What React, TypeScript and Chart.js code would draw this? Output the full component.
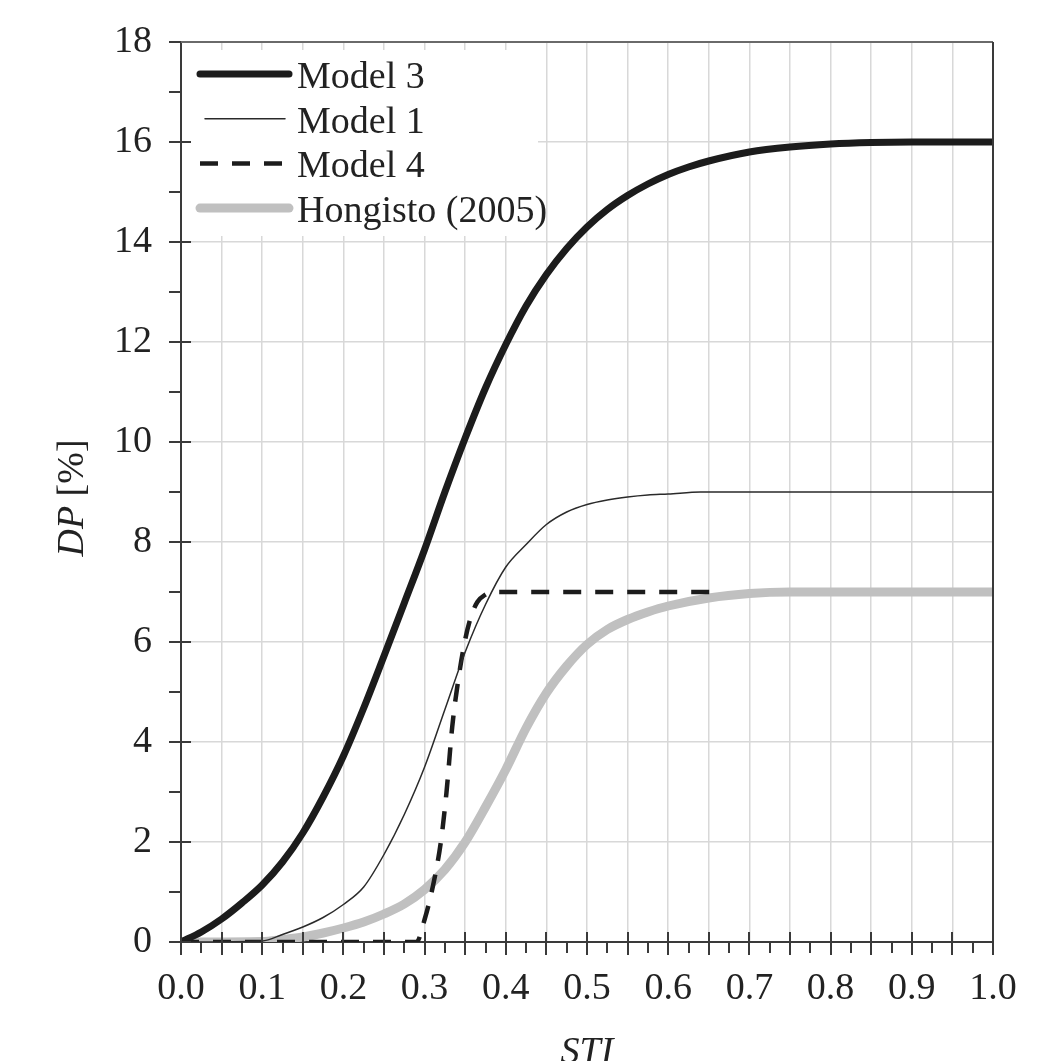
import React, { useEffect, useRef } from 'react';
import { Chart, registerables } from 'chart.js';

Chart.register(...registerables);

// ---- Data ----
const seriesNames = ['Model 3', 'Model 1', 'Model 4', 'Hongisto (2005)'];

const model3STI = [0, 0.025, 0.05, 0.075, 0.1, 0.125, 0.15, 0.175, 0.2, 0.225, 0.25, 0.275, 0.3, 0.325, 0.35, 0.375, 0.4, 0.425, 0.45, 0.475, 0.5, 0.525, 0.55, 0.575, 0.6, 0.625, 0.65, 0.7, 0.75, 0.8, 0.85, 0.9, 0.95, 1.0];
const model3DP = [0, 0.2, 0.46, 0.78, 1.14, 1.6, 2.18, 2.9, 3.72, 4.68, 5.72, 6.78, 7.85, 9.0, 10.08, 11.08, 11.95, 12.72, 13.35, 13.87, 14.3, 14.65, 14.93, 15.16, 15.35, 15.5, 15.62, 15.8, 15.9, 15.96, 15.99, 16.0, 16.0, 16.0];

const model1STI = [0, 0.1, 0.125, 0.15, 0.175, 0.2, 0.225, 0.25, 0.275, 0.3, 0.325, 0.35, 0.375, 0.4, 0.425, 0.45, 0.475, 0.5, 0.525, 0.55, 0.575, 0.6, 0.64, 0.7, 0.8, 0.9, 1.0];
const model1DP = [0, 0.02, 0.15, 0.3, 0.49, 0.75, 1.1, 1.75, 2.55, 3.5, 4.65, 5.8, 6.75, 7.5, 7.95, 8.35, 8.6, 8.75, 8.84, 8.9, 8.94, 8.96, 9.0, 9.0, 9.0, 9.0, 9.0];

const model4STI = [0, 0.29, 0.3, 0.31, 0.32, 0.327, 0.334, 0.342, 0.35, 0.357, 0.365, 0.375, 0.385, 0.66];
const model4DP = [0, 0, 0.45, 1.1, 2.0, 3.0, 4.3, 5.3, 6.05, 6.5, 6.8, 6.95, 7.0, 7.0];

const hongistoSTI = [0, 0.1, 0.125, 0.15, 0.175, 0.2, 0.225, 0.25, 0.275, 0.3, 0.325, 0.35, 0.375, 0.4, 0.425, 0.45, 0.475, 0.5, 0.525, 0.55, 0.575, 0.6, 0.65, 0.7, 0.75, 0.85, 1.0];
const hongistoDP = [0, 0.01, 0.05, 0.1, 0.18, 0.28, 0.4, 0.56, 0.76, 1.05, 1.45, 2.0, 2.7, 3.45, 4.28, 4.98, 5.52, 5.95, 6.25, 6.45, 6.6, 6.72, 6.88, 6.97, 7.0, 7.0, 7.0];

const xTickLabels = ['0.0', '0.1', '0.2', '0.3', '0.4', '0.5', '0.6', '0.7', '0.8', '0.9', '1.0'];
const yTickLabels = ['0', '2', '4', '6', '8', '10', '12', '14', '16', '18'];

const xTitle = 'STI';
const yTitleItalic = 'DP';
const yTitleRest = ' [%]';

// ---- Styling ----
const FONT = "'Liberation Serif', 'Times New Roman', serif";
const FS = 38;
const TEXT = '#222222';
const GRID = '#d8d8d8';
const AXIS = '#3a3a3a';

const zip = (xs: number[], ys: number[]) => xs.map((x, i) => ({ x, y: ys[i] }));

const decorPlugin = {
  id: 'decor',
  afterDraw(chart: any) {
    const { ctx, chartArea: ca, scales } = chart;
    const xs = scales.x;
    const ys = scales.y;
    ctx.save();

    // legend background box
    ctx.fillStyle = '#ffffff';
    ctx.fillRect(ca.left + 2, ca.top + 8, 538 - ca.left - 2, 236 - ca.top - 8);

    // legend entries
    ctx.font = `${FS}px ${FONT}`;
    ctx.textBaseline = 'alphabetic';
    ctx.textAlign = 'left';
    chart.data.datasets.forEach((ds: any, i: number) => {
      const base = ca.top + 46 + i * 44.7;
      const ly = base - 14;
      ctx.save();
      ctx.strokeStyle = ds.borderColor;
      ctx.lineWidth = ds.borderWidth;
      ctx.lineCap = ds.borderDash && ds.borderDash.length ? 'butt' : 'round';
      ctx.setLineDash(ds.borderDash || []);
      ctx.beginPath();
      const x0 = i === 1 ? ca.left + 24 : ca.left + 19;
      const x1 = i === 1 ? ca.left + 104 : ca.left + 108;
      ctx.moveTo(x0, ly);
      ctx.lineTo(x1, ly);
      ctx.stroke();
      ctx.restore();
      ctx.fillStyle = TEXT;
      ctx.fillText(ds.label, ca.left + 116, base);
    });

    // tick marks
    ctx.strokeStyle = AXIS;
    ctx.lineWidth = 2;
    ctx.beginPath();
    for (let k = 0; k <= 20; k++) {
      const px = Math.round(xs.getPixelForValue(k * 0.05));
      ctx.moveTo(px, ca.bottom - 10);
      ctx.lineTo(px, ca.bottom + 13);
    }
    for (let k = 0; k < 20; k++) {
      const px = Math.round(xs.getPixelForValue(0.025 + k * 0.05));
      ctx.moveTo(px, ca.bottom);
      ctx.lineTo(px, ca.bottom + 11);
    }
    for (let v = 0; v <= 18; v++) {
      const py = Math.round(ys.getPixelForValue(v));
      if (v % 2 === 0) {
        ctx.moveTo(ca.left - 12, py);
        ctx.lineTo(ca.left + 10, py);
      } else {
        ctx.moveTo(ca.left - 12, py);
        ctx.lineTo(ca.left, py);
      }
    }
    ctx.stroke();

    // frame: top and right
    ctx.beginPath();
    ctx.strokeStyle = '#6a6a6a';
    ctx.moveTo(ca.left, ca.top);
    ctx.lineTo(ca.right, ca.top);
    ctx.stroke();
    ctx.beginPath();
    ctx.strokeStyle = AXIS;
    ctx.moveTo(ca.right, ca.top);
    ctx.lineTo(ca.right, ca.bottom);
    ctx.stroke();

    // y-axis title with italic "DP"
    ctx.save();
    ctx.translate(73, 498);
    ctx.rotate(-Math.PI / 2);
    ctx.textBaseline = 'middle';
    ctx.fillStyle = TEXT;
    const fItal = `italic ${FS}px ${FONT}`;
    const fReg = `${FS}px ${FONT}`;
    ctx.font = fItal;
    const w1 = ctx.measureText(yTitleItalic).width;
    ctx.font = fReg;
    const w2 = ctx.measureText(yTitleRest).width;
    const start = -(w1 + w2) / 2;
    ctx.textAlign = 'left';
    ctx.font = fItal;
    ctx.fillText(yTitleItalic, start, 0);
    ctx.font = fReg;
    ctx.fillText(yTitleRest, start + w1, 0);
    ctx.restore();

    ctx.restore();
  },
};

export default function App() {
  const ref = useRef<HTMLCanvasElement>(null);

  useEffect(() => {
    const canvas = ref.current;
    if (!canvas) return;
    const chart = new Chart(canvas, {
      type: 'line',
      data: {
        datasets: [
          {
            label: seriesNames[0],
            data: zip(model3STI, model3DP),
            borderColor: '#1c1c1c',
            borderWidth: 7,
            borderCapStyle: 'round',
            borderJoinStyle: 'round',
            cubicInterpolationMode: 'monotone',
            pointRadius: 0,
            fill: false,
          },
          {
            label: seriesNames[1],
            data: zip(model1STI, model1DP),
            borderColor: '#2a2a2a',
            borderWidth: 1.5,
            cubicInterpolationMode: 'monotone',
            pointRadius: 0,
            fill: false,
          },
          {
            label: seriesNames[2],
            data: zip(model4STI, model4DP),
            borderColor: '#1c1c1c',
            borderWidth: 4.5,
            borderDash: [18, 14],
            cubicInterpolationMode: 'monotone',
            pointRadius: 0,
            fill: false,
          },
          {
            label: seriesNames[3],
            data: zip(hongistoSTI, hongistoDP),
            borderColor: '#c0c0c0',
            borderWidth: 9,
            borderCapStyle: 'round',
            borderJoinStyle: 'round',
            cubicInterpolationMode: 'monotone',
            pointRadius: 0,
            fill: false,
          },
        ],
      },
      options: {
        animation: false,
        responsive: false,
        events: [],
        layout: { autoPadding: false, padding: { left: 0, right: 70, top: 42, bottom: 0 } },
        plugins: {
          legend: { display: false },
          tooltip: { enabled: false },
        },
        scales: {
          x: {
            type: 'linear',
            min: 0,
            max: 1,
            afterFit: (s: any) => {
              s.height = 119;
              s.paddingLeft = 0;
              s.paddingRight = 0;
            },
            ticks: {
              stepSize: 0.05,
              autoSkip: false,
              maxRotation: 0,
              minRotation: 0,
              padding: 24,
              color: TEXT,
              font: { family: FONT, size: FS },
              callback: (v: any) => {
                const n = Number(v);
                const lab = xTickLabels.find((l) => Math.abs(parseFloat(l) - n) < 1e-6);
                return lab ?? '';
              },
            },
            grid: {
              drawTicks: false,
              lineWidth: 1.5,
              color: (c: any) => {
                const v = c.tick ? c.tick.value : 0;
                return v <= 1e-6 || v >= 1 - 1e-6 ? 'rgba(0,0,0,0)' : GRID;
              },
            },
            border: { display: true, color: AXIS, width: 2 },
            title: {
              display: true,
              text: xTitle,
              color: TEXT,
              padding: 0,
              font: { family: FONT, size: FS, style: 'italic', lineHeight: 0.43 },
            },
          },
          y: {
            type: 'linear',
            min: 0,
            max: 18,
            afterFit: (s: any) => {
              s.width = 181;
              s.paddingTop = 0;
              s.paddingBottom = 0;
            },
            ticks: {
              stepSize: 2,
              padding: 29,
              color: TEXT,
              font: { family: FONT, size: FS },
              callback: (v: any) => {
                const n = Number(v);
                const lab = yTickLabels.find((l) => Math.abs(parseFloat(l) - n) < 1e-6);
                return lab ?? '';
              },
            },
            grid: {
              drawTicks: false,
              lineWidth: 1.5,
              color: (c: any) => {
                const v = c.tick ? c.tick.value : 0;
                return v <= 1e-6 || v >= 18 - 1e-6 ? 'rgba(0,0,0,0)' : GRID;
              },
            },
            border: { display: true, color: AXIS, width: 2 },
            title: { display: false },
          },
        },
      } as any,
      plugins: [decorPlugin],
    });
    return () => chart.destroy();
  }, []);

  return (
    <div style={{ position: 'absolute', left: 0, top: 0, width: 1063, height: 1061, background: '#ffffff' }}>
      <canvas ref={ref} width={1063} height={1061} style={{ display: 'block', width: 1063, height: 1061 }} />
    </div>
  );
}
